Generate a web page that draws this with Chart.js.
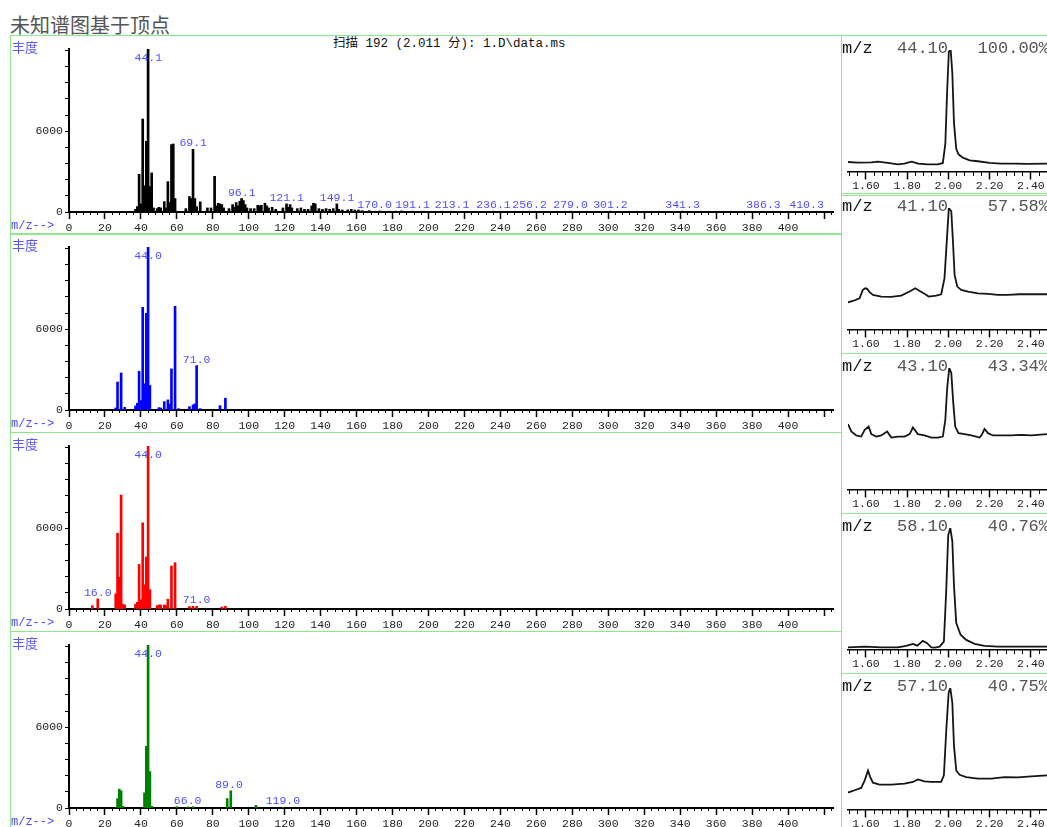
<!DOCTYPE html>
<html>
<head>
<meta charset="utf-8">
<script src="https://cdn.jsdelivr.net/npm/chart.js@4.4.0/dist/chart.umd.min.js"></script>
<style>
html, body { margin: 0; padding: 0; background: #fff; }
#page { position: relative; width: 1047px; height: 827px; overflow: hidden; }
.box { position: absolute; border: 1px solid #8ee68e; box-sizing: border-box; }
canvas { position: absolute; }
.txt { position: absolute; white-space: nowrap; line-height: 1; }
.mono { font-family: "Liberation Mono", "Noto Sans CJK SC", monospace; }
</style>
</head>
<body>
<div id="page">
  <div class="txt" style="left:10px; top:10px; font: 20px 'Noto Sans CJK SC'; color:#555;">未知谱图基于顶点</div>
</div>
<script>
// ---- mass spectra (left) : m/z and abundance ----
const mz1 = [37,38,39,40,41,42,43,44,45,46,47,49,50,51,53,54,55,56,57,58,59,65,67,68,69,70,71,73,77,79,81,82,83,84,85,86,89,91,92,93,94,95,96,97,98,99,101,103,105,106,107,109,110,111,113,115,119,121,122,123,124,127,129,131,133,135,136,137,139,141,143,145,147,149,150,152,155,157,159,161,163,167,170,173,178,182,185,191,197,207,213,236,256,279,301,341,386,410];
const ab1 = [200,400,2800,600,6900,1950,5250,12100,1900,2900,300,250,350,300,770,300,2250,700,5000,5050,1000,250,1150,1000,4650,1000,400,750,300,300,2650,450,650,600,550,300,250,550,350,700,450,800,1000,850,550,300,250,250,500,450,500,650,450,300,350,200,300,600,350,550,300,250,300,200,200,450,650,600,250,200,250,200,250,600,200,150,150,200,150,150,100,100,60,80,60,60,80,60,60,60,60,60,60,60,60,60,60,60];
const peaks1 = [44.1,69.1,96.1,121.1,149.1,170.0,191.1,213.1,236.1,256.2,279.0,301.2,341.3,386.3,410.3];

const mz2 = [26,27,29,31,37,38,39,40,41,42,43,44,45,50,51,53,55,56,57,59,61,67,69,70,71,73,84,87];
const ab2 = [150,2075,2750,200,300,500,2875,700,7625,1950,7175,12100,1825,175,150,625,750,450,3050,7700,100,250,375,450,3300,100,325,875];
const peaks2 = [44.0,71.0];

const mz3 = [13,16,26,27,28,29,30,31,37,38,39,40,41,42,43,44,45,49,50,51,53,54,55,57,59,67,69,71,85,87];
const ab3 = [250,750,1130,5620,2360,8460,350,300,350,500,3310,680,6400,1800,3860,12100,1430,250,300,300,300,250,730,3190,3440,180,200,200,150,200];
const peaks3 = [16.0,44.0,71.0];

const mz4 = [27,28,29,30,42,43,44,45,46,60,66,69,88,90,104,119];
const ab4 = [700,1400,1275,125,1125,4575,12100,2700,125,100,80,100,700,1275,200,60];
const peaks4 = [44.0,66.0,89.0,119.0];

// abundance axis: minor ticks, labelled ones
const abTicks = [0,1200,2400,3600,4800,6000,7200,8400,9600,10800,12000];
const abTickLabels = [0,6000];

// ---- extracted ion chromatograms (right) : time (min) and relative height ----
const eicTime1 = [1.513,1.561,1.626,1.658,1.707,1.755,1.787,1.807,1.823,1.852,1.901,1.949,1.973,1.985,1.994,2.002,2.011,2.019,2.027,2.038,2.049,2.070,2.103,2.143,2.200,2.256,2.321,2.385,2.478];
const eicAb1 = [8.2,7.7,7.9,8.5,7.4,6.3,6.8,7.9,8.5,6.8,6.3,6.3,7.4,23,67,98.6,100,81,40,19,14.5,11.8,9.6,8.8,7.4,6.8,6.8,6.6,6.8];

const eicTime2 = [1.513,1.537,1.569,1.585,1.597,1.606,1.618,1.634,1.674,1.723,1.771,1.812,1.839,1.865,1.888,1.904,1.941,1.965,1.981,1.993,2.002,2.014,2.022,2.030,2.043,2.062,2.095,2.143,2.192,2.240,2.288,2.345,2.402,2.478];
const eicAb2 = [22.7,23.8,26,32.9,34.2,33.7,31,28.8,27.4,27.1,28.2,31.5,34.2,31.5,29.3,27.4,28.2,29.3,42.5,75.3,100,97.3,72.6,45.2,35.6,32.9,31.5,30.1,29.6,28.8,28.8,29.3,29.3,29.3];

const eicTime3 = [1.513,1.529,1.553,1.577,1.594,1.613,1.626,1.650,1.674,1.703,1.723,1.755,1.787,1.812,1.828,1.852,1.884,1.917,1.949,1.973,1.985,1.994,2.004,2.014,2.023,2.033,2.049,2.078,2.111,2.151,2.162,2.175,2.192,2.216,2.256,2.305,2.353,2.402,2.478];
const eicAb3 = [54,48,44.7,43.8,49.3,52,45.8,43.8,44.7,48,43,43.8,43.8,45.8,51.2,45.8,44.7,43,43,43.8,57.5,83.6,100,95.9,72.6,52,46.6,45.8,44.7,43,45.2,50.1,46.6,44.7,44.7,44.7,45.2,44.7,45.8];

const eicTime4 = [1.513,1.594,1.674,1.755,1.795,1.828,1.849,1.876,1.897,1.917,1.936,1.957,1.978,1.989,1.999,2.009,2.019,2.027,2.038,2.059,2.086,2.127,2.175,2.240,2.321,2.402,2.478];
const eicAb4 = [2.2,2.8,2.2,2.2,3.3,5,3.6,7.5,5.6,2.2,1.9,2.8,6.9,47,94,100,89,52.8,22,12.5,8.3,5,3.3,2.8,2.8,2.8,2.8];

const eicTime5 = [1.513,1.545,1.577,1.594,1.610,1.621,1.634,1.666,1.723,1.787,1.828,1.852,1.884,1.917,1.965,1.978,1.989,2.001,2.009,2.019,2.027,2.038,2.054,2.086,2.143,2.208,2.272,2.337,2.402,2.478];
const eicAb5 = [14.3,16.2,18.1,24.3,32.4,27,22.4,20.8,20.8,21.6,23,25.1,23.5,23,23,28.4,63.5,96,100,87.8,52.7,32.4,28.9,27,25.7,25.7,27,26.8,27.6,28.4];

const ionMz = [44.10, 41.10, 43.10, 58.10, 57.10];
const ionPct = [100.00, 57.58, 43.34, 40.76, 40.75];

// ---- layout ----
const page = document.getElementById('page');
const specTops = [35, 233, 432, 631];
const eicTops = [35, 193, 353, 513, 673];
const monoFont = { family: '"Liberation Mono", monospace', size: 11.5 };
Chart.defaults.font.family = monoFont.family;

function addEl(tag, cls, style, text) {
    const el = document.createElement(tag);
    if (cls) el.className = cls;
    el.style.cssText = style;
    if (text !== undefined) el.textContent = text;
    page.appendChild(el);
    return el;
}

// draws the blue m/z labels above peaks
const peakLabels = {
    id: 'peakLabels',
    afterDatasetsDraw(chart, args, opts) {
        if (!opts.values) return;
        const { ctx, chartArea, scales: { x, y } } = chart;
        const pts = chart.data.datasets[0].data;
        ctx.save();
        ctx.font = '11.5px "Liberation Mono", monospace';
        ctx.fillStyle = '#4f4fff';
        ctx.textAlign = 'center';
        ctx.textBaseline = 'middle';
        opts.values.forEach(v => {
            let top = 0;
            pts.forEach(p => { if (Math.abs(p.x - v) <= 1.5 && p.y > top) top = p.y; });
            const ty = Math.max(y.getPixelForValue(top) - 6, chartArea.top + 9);
            ctx.fillText(v.toFixed(1), x.getPixelForValue(v), ty);
        });
        ctx.restore();
    }
};

function specChart(i, mz, ab, color, peaks) {
    const top = specTops[i];
    addEl('div', 'box', `left:10px; top:${top}px; width:832px; height:${i === 3 ? 210 : 200}px;`);
    const cv = addEl('canvas', '', `left:10px; top:${top}px;`);
    cv.width = 828; cv.height = 199;
    addEl('div', 'txt', `left:12px; top:${top + 2}px; font:13px 'Noto Sans CJK SC'; color:#5a5aff;`, '丰度');
    addEl('div', 'txt mono', `left:11px; top:${top + 185}px; font-size:12px; color:#4a4aff;`, 'm/z-->');

    new Chart(cv, {
        type: 'bar',
        data: {
            datasets: [{
                data: mz.map((m, k) => ({ x: m, y: ab[k] })),
                backgroundColor: color,
                borderWidth: 0,
                barThickness: 2
            }]
        },
        options: {
            responsive: false,
            animation: false,
            events: [],
            layout: { padding: { left: 0, top: 14, right: 5, bottom: 22 } },
            plugins: { legend: { display: false }, tooltip: { enabled: false }, peakLabels: { values: peaks } },
            scales: {
                x: {
                    type: 'linear', position: { y: 0 }, min: 0, max: 425, offset: false,
                    ticks: { stepSize: 20, maxTicksLimit: 100, autoSkip: false, maxRotation: 0, includeBounds: false, padding: 3,
                             font: monoFont, color: '#222', callback: v => v <= 400 ? String(v) : '' },
                    grid: { drawOnChartArea: false, offset: false, tickLength: 6, tickColor: '#000', tickWidth: 1.5 },
                    border: { color: '#000', width: 2 }
                },
                xm: {
                    type: 'linear', position: { y: 0 }, min: 0, max: 425, offset: false,
                    ticks: { stepSize: 4, maxTicksLimit: 200, autoSkip: false, maxRotation: 0, includeBounds: false, callback: () => '' },
                    grid: { drawOnChartArea: false, offset: false, tickLength: 3, tickColor: '#000', tickWidth: 1 },
                    border: { display: false }
                },
                y: {
                    min: 0, max: 12100,
                    afterBuildTicks: s => { s.ticks = abTicks.map(v => ({ value: v })); },
                    ticks: { autoSkip: false, padding: 2, font: monoFont, color: '#222',
                             callback: v => abTickLabels.includes(v) ? String(v) : '' },
                    grid: { drawOnChartArea: false, tickLength: 4, tickColor: '#000' },
                    border: { color: '#000', width: 2 },
                    afterFit: s => { s.width = 59; }
                }
            }
        },
        plugins: [peakLabels]
    });
}

function eicChart(i, time, ab) {
    const top = eicTops[i];
    addEl('div', 'box', `left:841px; top:${top}px; width:260px; height:${i === 4 ? 170 : 161}px;`);
    const cv = addEl('canvas', '', `left:841px; top:${top}px;`);
    cv.width = 260; cv.height = 160;
    addEl('div', 'txt mono', `left:842px; top:${top + 5}px; font-size:17px; color:#111;`, 'm/z');
    addEl('div', 'txt mono', `left:897px; top:${top + 5}px; font-size:17px; color:#555;`, ionMz[i].toFixed(2));
    addEl('div', 'txt mono', `left:949px; width:100px; text-align:right; top:${top + 5}px; font-size:17px; color:#555;`, ionPct[i].toFixed(2) + '%');

    const xCommon = { type: 'linear', position: { y: 0 }, min: 1.513, max: 2.74 };
    new Chart(cv, {
        type: 'line',
        data: {
            datasets: [{
                data: time.map((t, k) => ({ x: t, y: ab[k] })),
                borderColor: '#151515',
                borderWidth: 1.8,
                pointRadius: 0,
                tension: 0,
                fill: false
            }]
        },
        options: {
            responsive: false,
            animation: false,
            events: [],
            layout: { padding: { left: 7, top: 15, right: 0, bottom: 23 } },
            plugins: { legend: { display: false }, tooltip: { enabled: false } },
            scales: {
                x: Object.assign({}, xCommon, {
                    ticks: { stepSize: 0.2, maxTicksLimit: 100, autoSkip: false, maxRotation: 0, includeBounds: false, padding: 0,
                             font: monoFont, color: '#222', callback: v => v.toFixed(2) },
                    grid: { drawOnChartArea: false, tickLength: 7, tickColor: '#000', tickWidth: 1.5 },
                    border: { color: '#000', width: 1.5 }
                }),
                xm: Object.assign({}, xCommon, {
                    ticks: { stepSize: 0.04, maxTicksLimit: 200, autoSkip: false, maxRotation: 0, includeBounds: false, callback: () => '' },
                    grid: { drawOnChartArea: false, tickLength: 4, tickColor: '#000', tickWidth: 1 },
                    border: { display: false }
                }),
                y: { display: false, min: 0, max: 100 }
            }
        }
    });
}

addEl('div', 'txt mono', 'left:333px; top:38px; font-size:12.5px; color:#111;', '扫描 192 (2.011 分): 1.D\\data.ms');

specChart(0, mz1, ab1, '#000000', peaks1);
specChart(1, mz2, ab2, '#0000ff', peaks2);
specChart(2, mz3, ab3, '#ff0000', peaks3);
specChart(3, mz4, ab4, '#008000', peaks4);

eicChart(0, eicTime1, eicAb1);
eicChart(1, eicTime2, eicAb2);
eicChart(2, eicTime3, eicAb3);
eicChart(3, eicTime4, eicAb4);
eicChart(4, eicTime5, eicAb5);
</script>
</body>
</html>
